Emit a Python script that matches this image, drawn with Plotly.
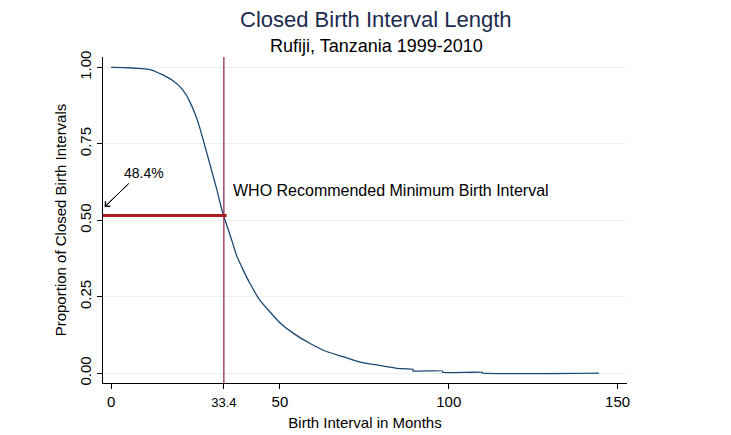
import plotly.graph_objects as go

# ---- data ----
months = [0, 4, 8, 10, 12, 13.4, 15, 16.4, 18, 19.3, 20.3, 21.3, 22.3, 23.3, 24.8, 26,
          27.3, 29.2, 31.2, 33.1, 35.1, 37.1, 39.1, 41.1, 44, 47, 50, 53.9, 58.8, 63.8,
          68.7, 73.7, 78.6, 84.6, 89.4, 89.4, 98.2, 98.2, 110, 110, 144.5]
proportion = [1.0, 0.999, 0.997, 0.995, 0.991, 0.985, 0.977, 0.969, 0.959, 0.948, 0.938,
              0.925, 0.909, 0.888, 0.850, 0.812, 0.762, 0.686, 0.605, 0.522, 0.457, 0.387,
              0.338, 0.294, 0.240, 0.201, 0.165, 0.131, 0.098, 0.071, 0.054, 0.036, 0.027,
              0.016, 0.013, 0.0075, 0.0075, 0.003, 0.003, 0.0006, 0.0006]

who_min_months = 33.4
share_below = 0.484
share_label = "48.4%"

x_tickvals = [0, who_min_months, 50, 100, 150]
x_ticktext = ["0", "<span style='font-size:13px'>33.4</span>", "50", "100", "150"]
y_tickvals = [0, 0.25, 0.5, 0.75, 1.0]
y_ticktext = ["0.00", "0.25", "0.50", "0.75", "1.00"]

FONT = "Liberation Sans, Arial, Helvetica, sans-serif"
X_RANGE = [-2.4, 152.8]
Y_RANGE = [-0.032, 1.034]
level = 1 - share_below

fig = go.Figure()
fig.add_trace(go.Scatter(x=months, y=proportion, mode="lines",
                         line=dict(color="#1a476f", width=1.3, shape="spline", smoothing=0.4),
                         showlegend=False, hoverinfo="skip"))

# vertical WHO line
fig.add_shape(type="line", xref="x", yref="paper", x0=who_min_months, x1=who_min_months,
              y0=0, y1=1, line=dict(color="#8c1a4b", width=1.2))
# horizontal red line
fig.add_shape(type="line", xref="x", yref="y", x0=X_RANGE[0], x1=who_min_months + 0.8,
              y0=level, y1=level, line=dict(color="#b01c1c", width=3))

fig.add_annotation(x=35.4, y=0.599, xref="x", yref="y", text="WHO Recommended Minimum Birth Interval",
                   showarrow=False, xanchor="left", yanchor="middle",
                   font=dict(family=FONT, size=16, color="black"))

# arrow: shaft as a line, head from an annotation, label above
tip_x, tip_y = -1.9, level + 0.028
tail_x, tail_y = 5.3, level + 0.105
fig.add_shape(type="line", xref="x", yref="y", x0=tail_x, y0=tail_y, x1=tip_x, y1=tip_y,
              line=dict(color="black", width=1))
fig.add_annotation(x=tip_x, y=tip_y, xref="x", yref="y", ax=tail_x, ay=tail_y,
                   axref="x", ayref="y", text="", showarrow=True, arrowhead=4,
                   arrowsize=1.3, arrowwidth=1, arrowcolor="black")
fig.add_annotation(x=9.8, y=level + 0.14, xref="x", yref="y", text=share_label,
                   showarrow=False, font=dict(family=FONT, size=14, color="black"))

# titles
fig.add_annotation(x=0.521, y=1.1135, xref="paper", yref="paper", text="Closed Birth Interval Length",
                   showarrow=False, xanchor="center", yanchor="middle",
                   font=dict(family=FONT, size=22, color="#1c2b4f"))
fig.add_annotation(x=0.521, y=1.0337, xref="paper", yref="paper", text="Rufiji, Tanzania 1999-2010",
                   showarrow=False, xanchor="center", yanchor="middle",
                   font=dict(family=FONT, size=18, color="black"))

# page body has an 8px default margin: shrink the figure so the plot lands where the reference has it
fig.update_layout(
    width=723, height=427,
    margin=dict(l=95, r=104, t=49, b=52),
    paper_bgcolor="white", plot_bgcolor="white",
    font=dict(family=FONT, color="black"),
    xaxis=dict(range=X_RANGE, tickvals=x_tickvals, ticktext=x_ticktext, automargin=False,
               ticks="outside", ticklen=5, tickcolor="black", showline=True,
               linecolor="black", linewidth=1, showgrid=False, zeroline=False,
               tickfont=dict(family=FONT, size=15),
               title=dict(text="Birth Interval in Months", font=dict(family=FONT, size=15),
                          standoff=8)),
    yaxis=dict(range=Y_RANGE, tickvals=y_tickvals, ticktext=y_ticktext, tickangle=-90,
               automargin=False,
               ticks="outside", ticklen=5, tickcolor="black", showline=True,
               linecolor="black", linewidth=1, showgrid=True, gridcolor="#eaf2f3",
               gridwidth=1, zeroline=False, tickfont=dict(family=FONT, size=15),
               title=dict(text="Proportion of Closed Birth Intervals",
                          font=dict(family=FONT, size=15), standoff=6)),
)

fig.write_html("out.html")
